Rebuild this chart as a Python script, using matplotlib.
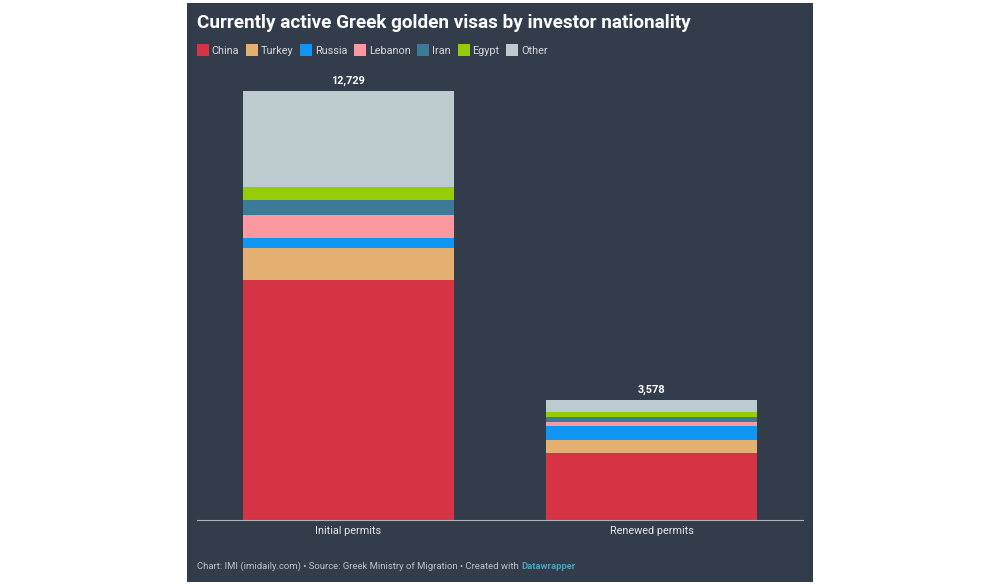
import matplotlib
matplotlib.use("Agg")
import matplotlib.pyplot as plt
import numpy as np
from matplotlib.patches import Rectangle

plt.rcParams['font.family'] = ['Roboto', 'DejaVu Sans']

categories = ['Initial permits', 'Renewed permits']
totals = ['12,729', '3,578']

nationalities = ['China', 'Turkey', 'Russia', 'Lebanon', 'Iran', 'Egypt', 'Other']
colors = ['#d63344', '#e3b071', '#0f96f5', '#fb98a0', '#3d7a99', '#96cc05', '#bdcbcf']

china = [7120, 1985]
turkey = [950, 395]
russia = [297, 395]
lebanon = [682, 130]
iran = [445, 148]
egypt = [386, 166]
other = [2849, 347]

series = [china, turkey, russia, lebanon, iran, egypt, other]

W, H = 1000, 585
bg = '#323c4b'

fig = plt.figure(figsize=(W / 100, H / 100), dpi=100, facecolor='white')

# dark card behind everything
fig.add_artist(Rectangle((187 / W, 1 - 582 / H), 626 / W, 579 / H,
                         transform=fig.transFigure, facecolor=bg, edgecolor='none', zorder=-1))

ax = fig.add_axes([197 / W, 1 - 520 / H, 606 / W, 429 / H])
ax.patch.set_alpha(0)

bottom = np.zeros(len(categories))
bars = None
for name, values, color in zip(nationalities, series, colors):
    bars = ax.bar(categories, values, width=0.699, bottom=bottom, color=color, label=name)
    bottom += np.array(values)

ax.bar_label(bars, labels=totals, padding=3.6, color='white', fontsize=7.8, fontweight='bold')

ax.set_xlim(-0.5, 1.5)
ax.set_ylim(0, 12729)
ax.set_yticks([])
for side in ['top', 'left', 'right']:
    ax.spines[side].set_visible(False)
ax.spines['bottom'].set_color('#aeb3b9')
ax.spines['bottom'].set_linewidth(0.8)
ax.tick_params(axis='x', length=0, pad=4, labelsize=7.8, labelcolor='#e6e8eb')

fig.text(197 / W, 1 - 23.5 / H, 'Currently active Greek golden visas by investor nationality',
         color='white', fontsize=13.6, fontweight='bold', va='center', ha='left')

ax.legend(loc='center left', bbox_to_anchor=(197 / W, 1 - 50 / H),
          bbox_transform=fig.transFigure, ncol=7, frameon=False, fontsize=7.8,
          labelcolor='#d5d9dd', borderpad=0, borderaxespad=0,
          handlelength=1.1, handleheight=1.45, handletextpad=0.25, columnspacing=0.64)

foot = fig.text(197 / W, 1 - 566.5 / H,
                'Chart: IMI (imidaily.com) • Source: Greek Ministry of Migration • Created with ',
                color='#bcc2c8', fontsize=6.8, va='center', ha='left')
ax.annotate('Datawrapper', xy=(1, 0), xycoords=foot, va='bottom', ha='left',
            color='#4f9fc0', fontsize=6.8, fontweight='bold', annotation_clip=False)

fig.savefig('out.png', dpi=100, facecolor='white')
